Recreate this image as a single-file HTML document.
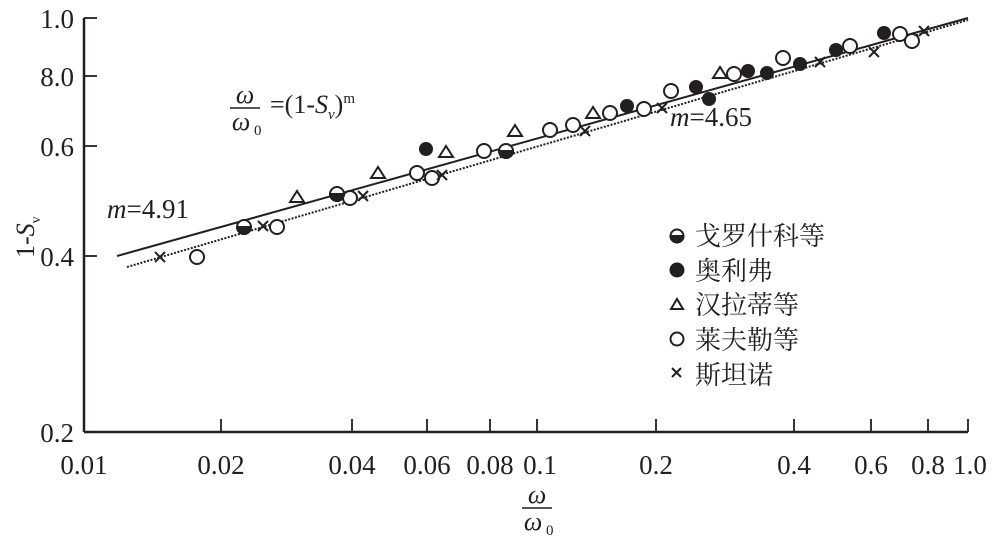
<!DOCTYPE html>
<html><head><meta charset="utf-8"><style>
html,body{margin:0;padding:0;background:#fff;}
svg{display:block;}
text{font-family:"Liberation Serif","Noto Serif CJK SC",serif;fill:#231f20;}
</style></head><body>
<svg width="992" height="537" viewBox="0 0 992 537" xmlns="http://www.w3.org/2000/svg" font-family="Liberation Serif, serif">
<g stroke="#231f20" stroke-width="2.5" fill="none">
<line x1="84" y1="18" x2="84" y2="432"/>
<line x1="84" y1="432" x2="968" y2="432"/>
</g>
<g stroke="#231f20" stroke-width="1.8">
<line x1="84" y1="18" x2="97" y2="18"/>
<line x1="84" y1="76" x2="97" y2="76"/>
<line x1="84" y1="146" x2="97" y2="146"/>
<line x1="84" y1="256" x2="97" y2="256"/>
<line x1="221" y1="432" x2="221" y2="419"/>
<line x1="352" y1="432" x2="352" y2="419"/>
<line x1="427" y1="432" x2="427" y2="419"/>
<line x1="490" y1="432" x2="490" y2="419"/>
<line x1="537" y1="432" x2="537" y2="419"/>
<line x1="656" y1="432" x2="656" y2="419"/>
<line x1="794" y1="432" x2="794" y2="419"/>
<line x1="871" y1="432" x2="871" y2="419"/>
<line x1="928" y1="432" x2="928" y2="419"/>
<line x1="968" y1="432" x2="968" y2="419"/>
</g>
<g font-size="27" text-anchor="end">
<text x="74" y="28">1.0</text>
<text x="74" y="86">8.0</text>
<text x="74" y="156">0.6</text>
<text x="74" y="266">0.4</text>
<text x="74" y="442">0.2</text>
</g>
<g font-size="27" text-anchor="middle">
<text x="84" y="474">0.01</text>
<text x="221" y="474">0.02</text>
<text x="352" y="474">0.04</text>
<text x="427" y="474">0.06</text>
<text x="490" y="474">0.08</text>
<text x="540" y="474">0.1</text>
<text x="656" y="474">0.2</text>
<text x="794" y="474">0.4</text>
<text x="871" y="474">0.6</text>
<text x="928" y="474">0.8</text>
<text x="970" y="474">1.0</text>
</g>
<text x="537" y="503" font-size="26" font-style="italic" text-anchor="middle">ω</text>
<line x1="522" y1="508" x2="552" y2="508" stroke="#231f20" stroke-width="1.5"/>
<text x="533" y="530" font-size="26" font-style="italic" text-anchor="middle">ω</text>
<text x="546" y="535" font-size="15">0</text>
<text transform="translate(34,258) rotate(-90)" font-size="26">1-<tspan font-style="italic">S</tspan><tspan font-size="14" dy="6">v</tspan></text>
<text x="245" y="103" font-size="26" font-style="italic" text-anchor="middle">ω</text>
<line x1="230" y1="108" x2="260" y2="108" stroke="#231f20" stroke-width="1.5"/>
<text x="241" y="130" font-size="26" font-style="italic" text-anchor="middle">ω</text>
<text x="254" y="135" font-size="15">0</text>
<text x="270" y="113" font-size="26">=(1-<tspan font-style="italic">S</tspan><tspan font-size="15" font-style="italic" dy="6">v</tspan><tspan dy="-6">)</tspan><tspan font-size="15" dy="-10">m</tspan></text>
<text x="107" y="218" font-size="27"><tspan font-style="italic">m</tspan>=4.91</text>
<text x="670" y="126" font-size="27"><tspan font-style="italic">m</tspan>=4.65</text>
<line x1="117" y1="256" x2="968" y2="18" stroke="#231f20" stroke-width="2"/>
<line x1="127" y1="267" x2="968" y2="20" stroke="#231f20" stroke-width="2" stroke-dasharray="2,1.5"/>
<g fill="#fff" stroke="#231f20" stroke-width="2">
<circle cx="197" cy="257" r="7"/><circle cx="277" cy="227" r="7"/><circle cx="350" cy="198" r="7"/>
<circle cx="417" cy="173" r="7"/><circle cx="432" cy="178" r="7"/><circle cx="484" cy="151" r="7"/>
<circle cx="550" cy="130" r="7"/><circle cx="573" cy="125" r="7"/><circle cx="610" cy="113" r="7"/>
<circle cx="644" cy="109" r="7"/><circle cx="671" cy="91" r="7"/><circle cx="734" cy="74" r="7"/>
<circle cx="783" cy="58" r="7"/><circle cx="850" cy="46" r="7"/><circle cx="900" cy="34" r="7"/>
<circle cx="912" cy="41" r="7"/>
<path d="M290 202 L297 191 L304 202 Z"/><path d="M371 178 L378 167 L385 178 Z"/>
<path d="M439 157 L446 146 L453 157 Z"/><path d="M508 136 L515 125 L522 136 Z"/>
<path d="M586 118 L593 107 L600 118 Z"/><path d="M713 78 L720 67 L727 78 Z"/>
</g>
<g fill="#231f20">
<circle cx="426" cy="149" r="7"/><circle cx="627" cy="106" r="7"/><circle cx="696" cy="87" r="7"/>
<circle cx="709" cy="99" r="7"/><circle cx="748" cy="71" r="7"/><circle cx="767" cy="73" r="7"/>
<circle cx="800" cy="64" r="7"/><circle cx="836" cy="50" r="7"/><circle cx="884" cy="33" r="7"/>
</g>
<g stroke="#231f20" stroke-width="2">
<circle cx="244" cy="227" r="7" fill="#fff"/><path d="M237 227 A7 7 0 0 0 251 227 Z" fill="#231f20"/>
<circle cx="337" cy="194" r="7" fill="#fff"/><path d="M330 194 A7 7 0 0 0 344 194 Z" fill="#231f20"/>
<circle cx="506" cy="151" r="7" fill="#fff"/><path d="M499 151 A7 7 0 0 0 513 151 Z" fill="#231f20"/>
</g>
<g stroke="#231f20" stroke-width="2">
<path d="M155 252 l10 10 M165 252 l-10 10"/><path d="M258 221 l10 10 M268 221 l-10 10"/>
<path d="M358 191 l10 10 M368 191 l-10 10"/><path d="M437 170 l10 10 M447 170 l-10 10"/>
<path d="M580 126 l10 10 M590 126 l-10 10"/><path d="M657 103 l10 10 M667 103 l-10 10"/>
<path d="M815 57 l10 10 M825 57 l-10 10"/><path d="M869 47 l10 10 M879 47 l-10 10"/>
<path d="M919 26 l10 10 M929 26 l-10 10"/>
</g>
<g stroke="#231f20" stroke-width="2">
<circle cx="677" cy="236" r="6.5" fill="#fff"/><path d="M670.5 236 A6.5 6.5 0 0 0 683.5 236 Z" fill="#231f20"/>
<circle cx="677" cy="270" r="6.5" fill="#231f20"/>
<path d="M671 309 L677 299 L683 309 Z" fill="#fff"/>
<circle cx="677" cy="339" r="6.5" fill="#fff"/>
<path d="M672 368 l9 9 M681 368 l-9 9"/>
</g>
<g font-size="26" font-family="'Noto Serif CJK SC','Noto Sans CJK SC',serif">
<text x="695" y="245">戈罗什科等</text>
<text x="695" y="280">奥利弗</text>
<text x="695" y="314">汉拉蒂等</text>
<text x="695" y="349">莱夫勒等</text>
<text x="695" y="384">斯坦诺</text>
</g>
</svg>
</body></html>
